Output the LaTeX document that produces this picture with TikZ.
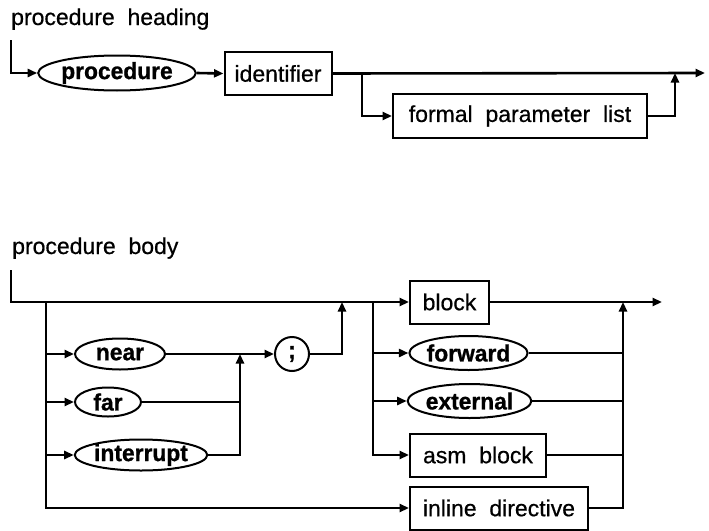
\documentclass[tikz,border=0pt]{standalone}
\usepackage{fontspec}
\setmainfont{Liberation Sans}[FakeBold=0.6]
\newfontfamily\kwfont{Liberation Sans}[FakeStretch=0.97,BoldFeatures={FakeBold=0.9}]
\usetikzlibrary{arrows.meta,shapes.geometric}
\begin{document}
\begin{tikzpicture}[x=1pt,y=-1pt,
  conn/.style={line width=2.6pt},
  arr/.style={conn,-{Triangle[length=9.5pt,width=8pt]}},
  term/.style={draw,line width=2pt,ellipse,inner sep=0pt,minimum height=32pt,font=\kwfont\bfseries\fontsize{23.5}{26}\selectfont},
  nonterm/.style={draw,line width=2pt,rectangle,inner sep=0pt,minimum height=43pt,font=\fontsize{23}{26}\selectfont},
  title/.style={anchor=base west,inner sep=0pt,font=\fontsize{23}{26}\selectfont}]
\useasboundingbox (0,0) rectangle (709,530);

% ---------- procedure heading ----------
\node[title] (t1) at (11,25) {procedure~~heading};
\coordinate (s1) at (11,40);
\node[term,minimum width=145pt,minimum height=35pt] (proc) at (117,73) {procedure};
\node[nonterm,minimum width=107pt] (ident) at (278,73.5) {identifier};
\node[nonterm,minimum width=254pt,minimum height=44pt] (fpl) at (520,116) {formal~~parameter~~list};
\coordinate (b1) at (362,73);
\coordinate (m1) at (675,73);
\coordinate (e1) at (705,73);

\draw[arr] (s1) |- (proc.west);
\draw[arr] (proc.east) -- (ident.west);
\draw[arr] (ident.east) -- (e1);
\draw[arr] (b1) |- (fpl.west);
\draw[arr] (fpl.east) -| (m1);

% ---------- procedure body ----------
\node[title] (t2) at (12,254) {procedure~~body};
\coordinate (s2) at (11,270);
\node[nonterm,minimum width=79pt] (block) at (449.5,302) {block};
\node[term,minimum width=117pt,minimum height=34pt] (forward) at (468.5,353) {forward};
\node[term,minimum width=119pt,minimum height=34pt] (external) at (469.5,401) {external};
\node[nonterm,minimum width=136pt] (asm) at (478,455) {asm~~block};
\node[nonterm,minimum width=178pt] (inline) at (499,508) {inline~~directive};

\node[term,minimum width=90pt,minimum height=31pt] (near) at (120,354) {near};
\node[term,minimum width=66pt,minimum height=29pt] (far) at (108,402) {far};
\node[term,minimum width=132pt,minimum height=31pt] (intr) at (141,455) {interrupt};
\node[draw,line width=2pt,circle,inner sep=0pt,minimum size=34pt,font=\kwfont\bfseries\fontsize{24}{26}\selectfont] (semi) at (292,354) {;};

\coordinate (lb) at (46,302);
\coordinate (jn) at (240,354);
\coordinate (m2) at (342,302);
\coordinate (rb) at (373,302);
\coordinate (rc) at (623,302);
\coordinate (e2) at (662,302);

\draw[arr] (s2) |- (block.west);
\draw[arr] (block.east) -- (e2);

\draw[arr] (lb) |- (inline.west);
\draw[arr] (lb |- near.west) -- (near.west);
\draw[arr] (lb |- far.west) -- (far.west);
\draw[arr] (lb |- intr.west) -- (intr.west);

\draw[arr] (near.east) -- (semi.west);
\draw[conn] (far.east) -- (far.east -| jn);
\draw[arr] (intr.east) -| (jn);
\draw[arr] (semi.east) -| (m2);

\draw[arr] (rb) |- (asm.west);
\draw[arr] (rb |- forward.west) -- (forward.west);
\draw[arr] (rb |- external.west) -- (external.west);

\draw[conn] (forward.east) -- (forward.east -| rc);
\draw[conn] (external.east) -- (external.east -| rc);
\draw[conn] (asm.east) -- (asm.east -| rc);
\draw[arr] (inline.east) -| (rc);
\end{tikzpicture}
\end{document}
